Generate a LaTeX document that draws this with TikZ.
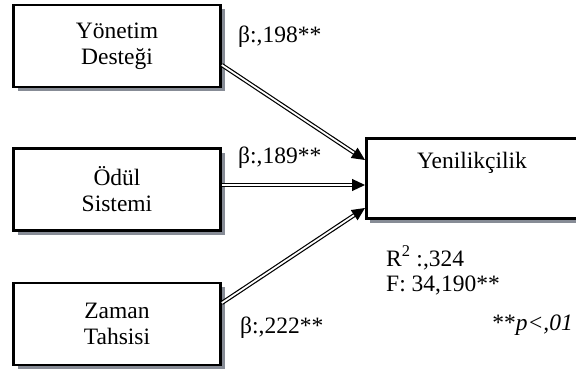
\documentclass[tikz,border=0pt]{standalone}
\usepackage{fontspec}
\setmainfont{Liberation Serif}
\usetikzlibrary{arrows.meta,shadows}
\definecolor{shadowgray}{RGB}{135,140,150}
\tikzset{
  factor/.style={draw, line width=2.6pt, fill=white, align=center,
    minimum width=207pt, minimum height=82pt,
    drop shadow={shadow xshift=4pt, shadow yshift=-4pt, fill=shadowgray, opacity=1}},
  linkarrow/.style={double, line width=1.2pt, double distance=1.8pt,
    -{Triangle[length=13pt, width=12pt]}},
  every node/.style={font=\fontsize{23.5}{26}\selectfont}
}
\begin{document}
\begin{tikzpicture}[x=1pt, y=-1pt]
    \useasboundingbox (0,0) rectangle (576,369);
    % Independent factors on the left
    \node[factor] (yonetim) at (117,46) {Yönetim\\Desteği};
    \node[factor] (odul) at (117,189.5) {Ödül\\Sistemi};
    \node[factor] (zaman) at (117,324) {Zaman\\Tahsisi};
    % Dependent factor on the right
    \node[factor, minimum width=218pt, minimum height=80pt] (yenilik) at (475.3,178.5) {};
    \node (yenilikText) at (472,163) {Yenilikçilik};
    % Paths
    \draw[linkarrow] ([yshift=-19pt]yonetim.east) -- ([yshift=18.5pt]yenilik.west);
    \draw[linkarrow] ([yshift=4.5pt]odul.east) -- ([yshift=-6.5pt]yenilik.west);
    \draw[linkarrow] ([yshift=21pt]zaman.east) -- ([yshift=-29.5pt]yenilik.west);
    % Coefficients
    \node[anchor=base west, inner sep=0pt] (betaYon) at (238,43) {β:,198**};
    \node[anchor=base west, inner sep=0pt] (betaOdul) at (238,163) {β:,189**};
    \node[anchor=base west, inner sep=0pt] (betaZam) at (240,333) {β:,222**};
    % Model summary
    \node[anchor=base west, inner sep=0pt] (rsq) at (386,266) {R\textsuperscript{2} :,324};
    \node[anchor=base west, inner sep=0pt] (fval) at (386,291) {F: 34,190**};
    \node[anchor=base east, inner sep=0pt] (pval) at (573,330) {**\textit{p<,01}};
\end{tikzpicture}
\end{document}
